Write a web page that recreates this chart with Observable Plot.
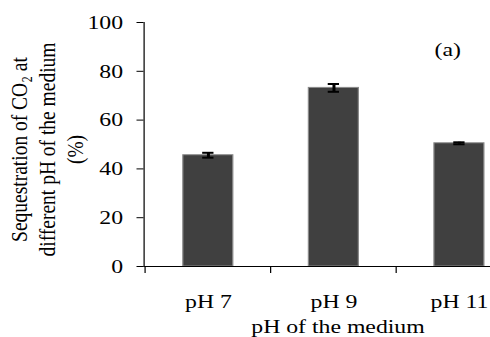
<!DOCTYPE html>
<html><head><meta charset="utf-8">
<script src="https://cdn.jsdelivr.net/npm/d3@7"></script>
<script src="https://cdn.jsdelivr.net/npm/@observablehq/plot@0.6"></script>
<style>
html,body{margin:0;padding:0;background:#fff;overflow:hidden;}
#wrap{transform:scaleX(1.2189);transform-origin:0 0;width:402px;height:337px;}
</style></head><body><div id="wrap"></div>
<script>
const categories = ["pH 7", "pH 9", "pH 11"];
const values = [45.6, 73.2, 50.5];
const errors = [1.0, 1.6, 0.4];
const yTicks = [0, 20, 40, 60, 80, 100];
const yLabel = "Sequestration of CO₂ at\ndifferent pH of the medium\n(%)";
const xLabel = "pH of the medium";
const panel = "(a)";

const data = categories.map((c, i) => ({ph: c, value: values[i], lo: values[i] - errors[i], hi: values[i] + errors[i]}));

const S = 490 / 402;
const W = 402, H = 337;
const x0 = 143.5 / S, x1 = x0 + 3 * 126.7 / S;
const step = (x1 - x0) / categories.length;
const bw = step * 0.4;
const capW = 12 / S;
const fs = 19.5;

const chart = Plot.plot({
  width: W, height: H,
  marginLeft: x0, marginRight: 0, marginTop: 22, marginBottom: 71,
  style: {fontFamily: '"Liberation Serif", "Times New Roman", serif', fontSize: fs + "px", color: "#000", background: "#fff"},
  x: {type: "band", domain: categories, range: [x0, x1], paddingInner: 0.6, paddingOuter: 0.3, align: 0.5},
  y: {domain: [0, 100]},
  marks: [
    Plot.barY(data, {x: "ph", y: "value", fill: "#404040", stroke: "#8a8a8a", strokeWidth: 1}),
    Plot.ruleX(data, {x: "ph", y1: "lo", y2: "hi", stroke: "#000", strokeWidth: 3 / S}),
    Plot.tickY(data, {x: "ph", y: "hi", stroke: "#000", strokeWidth: 2, insetLeft: (bw - capW) / 2, insetRight: (bw - capW) / 2}),
    Plot.tickY(data, {x: "ph", y: "lo", stroke: "#000", strokeWidth: 2, insetLeft: (bw - capW) / 2, insetRight: (bw - capW) / 2}),
    Plot.frame({anchor: "left", stroke: "#000", strokeOpacity: 1}),
    Plot.ruleY([0], {stroke: "#000"}),
    Plot.axisY({ticks: yTicks, tickSize: 7 / S, tickPadding: 14 / S, label: null, tickFormat: d => String(d), stroke: "#000", strokeOpacity: 1}),
    Plot.axisX({tickSize: 7, tickFormat: () => "", dx: -step / 2, label: null, stroke: "#000", strokeOpacity: 1}),
    Plot.axisX({tickSize: 0, tickPadding: 28, label: null}),
    Plot.text([xLabel], {x: () => categories[1], frameAnchor: "bottom", textAnchor: "middle", lineAnchor: "top", dy: 53, dx: 4 / S}),
    Plot.text([yLabel], {frameAnchor: "left", rotate: -90, textAnchor: "middle", lineAnchor: "middle", lineHeight: 1.18, dx: 36.9 - x0, dy: 5}),
    Plot.text([panel], {x: () => categories[2], frameAnchor: "top", textAnchor: "middle", lineAnchor: "middle", dy: 27, dx: (449.7 - 461.5) / S})
  ]
});
document.getElementById("wrap").appendChild(chart);
</script>
</body></html>
